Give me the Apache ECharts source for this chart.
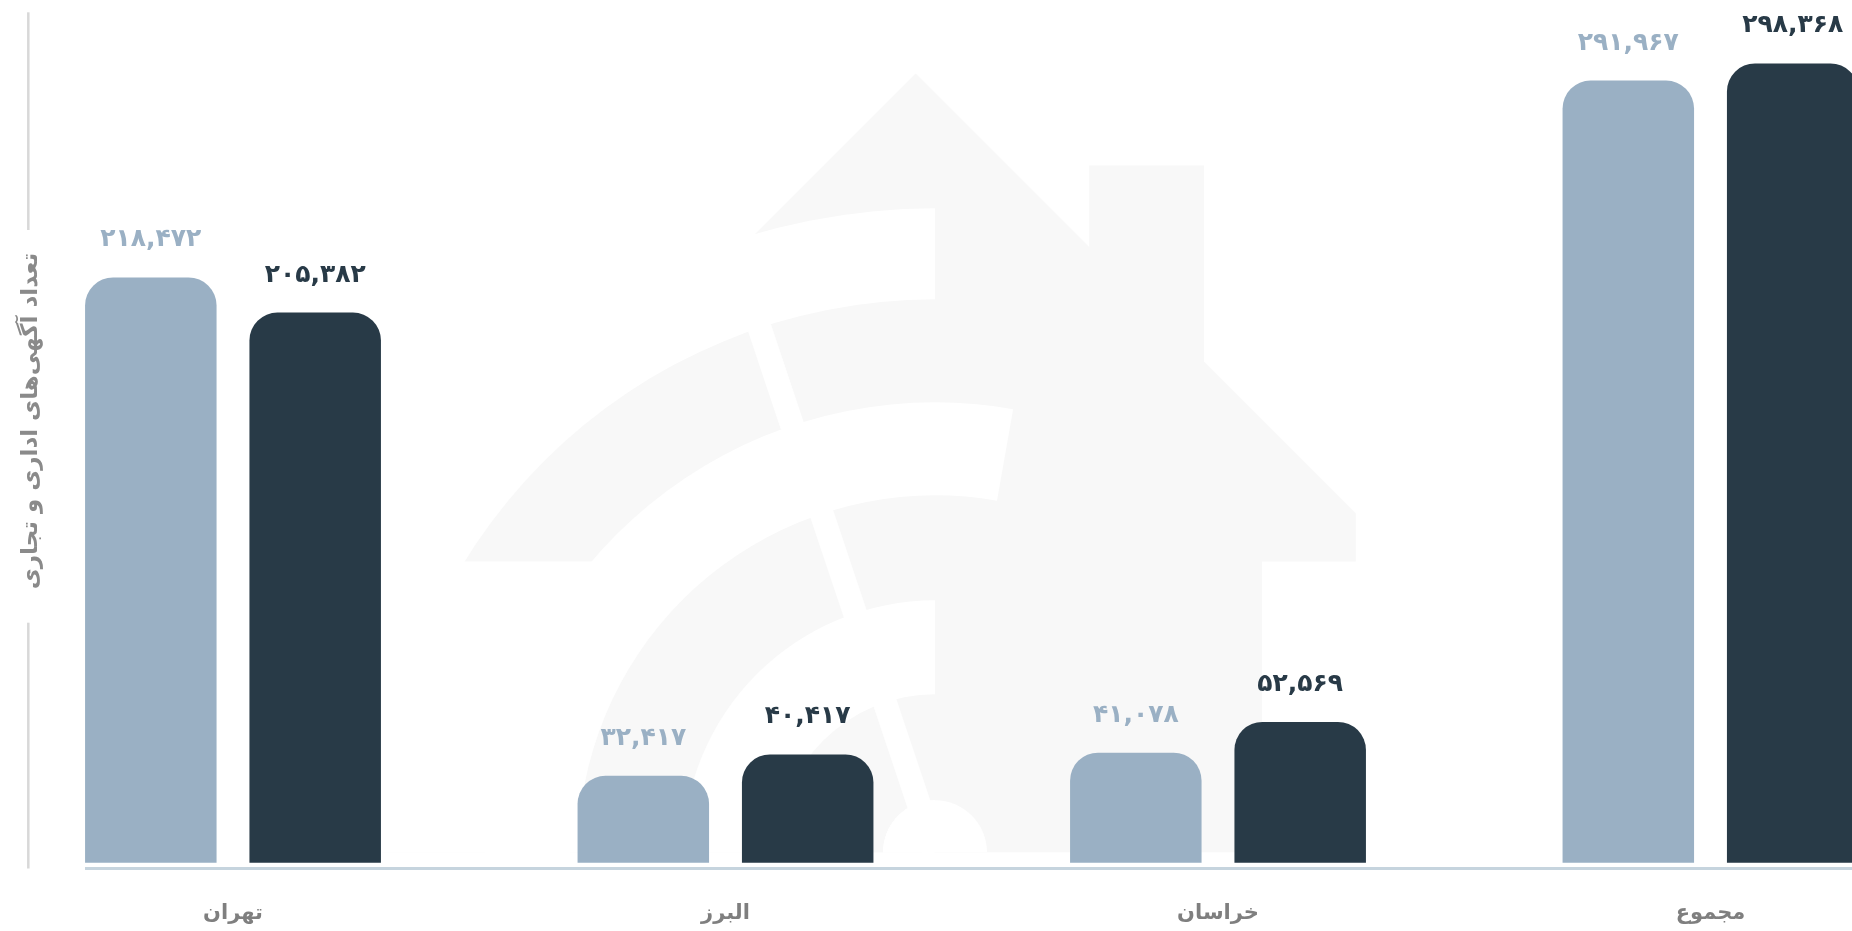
<!DOCTYPE html>
<html>
<head>
<meta charset="utf-8">
<style>
  html, body { margin: 0; padding: 0; background: #ffffff; }
  #chart { width: 1852px; height: 931px; }
</style>
<script src="https://cdn.jsdelivr.net/npm/echarts@6/dist/echarts.min.js"></script>
</head>
<body>
<div id="chart"></div>
<script>
// Provinces and the total
const categories = ['تهران', 'البرز', 'خراسان', 'مجموع'];
// Office and commercial listing counts, earlier period (light) and later period (dark)
const previousCounts = [218472, 32417, 41078, 291967];
const currentCounts = [205382, 40417, 52569, 298368];
const yAxisTitle = 'تعداد آگهی‌های اداری و تجاری';

const FONT = "'DejaVu Sans', 'Noto Sans', sans-serif";
const LIGHT = '#9ab0c4';
const DARK = '#283a47';
const MARK = '#f8f8f8';

const faDigits = '۰۱۲۳۴۵۶۷۸۹';
const toPersian = v => v.toLocaleString('en-US').replace(/\d/g, d => faDigits[d]);

// House-and-signal watermark drawn behind the bars
const cx = 935, cy = 852.3;
const PI = Math.PI;
const gapAngle = 18.5 * PI / 180;
const quarter = { startAngle: PI, endAngle: 1.5 * PI, clockwise: true };
const ringPart = (r0, r, z, fill, extra) => ({
  type: 'sector', silent: true, z: z, style: { fill: fill },
  shape: Object.assign({ cx: cx, cy: cy, r0: r0, r: r }, quarter, extra || {})
});
const watermark = [
  { type: 'polygon', silent: true, z: -20, style: { fill: MARK },
    shape: { points: [
      [915.7, 73.5], [1089.2, 246.9], [1089.2, 165.4], [1204, 165.4], [1204, 361.8],
      [1355.8, 513.6], [1355.8, 561.5], [1262, 561.5], [1262, 852.3], [569.4, 852.3],
      [569.4, 561.5], [475.6, 561.5], [475.6, 513.6]
    ] } },
  ringPart(0, 644, -19, '#ffffff'),
  ringPart(357, 450, -19, '#ffffff', { startAngle: 1.5 * PI, endAngle: 1.5 * PI + 10 * PI / 180 }),
  ringPart(450, 553, -18, MARK),
  { type: 'rect', silent: true, z: -17, style: { fill: '#ffffff' },
    shape: { x: 380, y: 561.5, width: 555, height: 291 } },
  ringPart(252, 357, -16, MARK),
  ringPart(52, 158, -16, MARK),
  ringPart(0, 52, -15, '#ffffff', { startAngle: PI, endAngle: 2 * PI }),
  { type: 'line', silent: true, z: -15, style: { stroke: '#ffffff', lineWidth: 24 },
    shape: { x1: cx, y1: cy, x2: cx - 560 * Math.sin(gapAngle), y2: cy - 560 * Math.cos(gapAngle) } }
];

// Axis rules: baseline and the split vertical rule beside the axis title
const rules = [
  { type: 'line', silent: true, z: 5, style: { stroke: '#c6d4de', lineWidth: 3 },
    shape: { x1: 85, y1: 868.5, x2: 1852, y2: 868.5 } },
  { type: 'line', silent: true, z: 5, style: { stroke: '#d8d8d8', lineWidth: 2.5 },
    shape: { x1: 28.3, y1: 12.3, x2: 28.3, y2: 230 } },
  { type: 'line', silent: true, z: 5, style: { stroke: '#d8d8d8', lineWidth: 2.5 },
    shape: { x1: 28.3, y1: 622.7, x2: 28.3, y2: 868.5 } }
];

const valueLabel = color => ({
  show: true,
  position: 'top',
  distance: 25,
  color: color,
  fontFamily: FONT,
  fontWeight: 'bold',
  fontSize: 25,
  formatter: p => toPersian(p.value)
});

const chart = echarts.init(document.getElementById('chart'), null, { renderer: 'canvas' });
chart.setOption({
  backgroundColor: '#ffffff',
  animation: false,
  graphic: { elements: watermark.concat(rules) },
  grid: {
    left: -13.25, width: 1970, top: 5.5, bottom: 68.3,
    containLabel: false, outerBoundsMode: 'none'
  },
  xAxis: {
    type: 'category',
    data: categories,
    axisLine: { show: false },
    axisTick: { show: false },
    axisLabel: {
      margin: 40,
      color: '#7f7f7f',
      fontFamily: FONT,
      fontWeight: 'bold',
      fontSize: 21
    }
  },
  yAxis: {
    type: 'value',
    min: 0,
    max: 320000,
    offset: -56,
    axisLine: { show: false },
    axisTick: { show: false },
    axisLabel: { show: false },
    splitLine: { show: false },
    name: yAxisTitle,
    nameLocation: 'middle',
    nameGap: 0,
    nameRotate: 90,
    nameTextStyle: {
      color: '#8a8a8a',
      fontFamily: FONT,
      fontWeight: 'bold',
      fontSize: 23,
      padding: [0, 0, 0, 26]
    }
  },
  series: [
    {
      name: 'previous',
      type: 'bar',
      data: previousCounts,
      barWidth: 131.5,
      barGap: '25%',
      itemStyle: { color: LIGHT, borderRadius: [28, 28, 0, 0] },
      label: valueLabel(LIGHT)
    },
    {
      name: 'current',
      type: 'bar',
      data: currentCounts,
      barWidth: 131.5,
      barGap: '25%',
      itemStyle: { color: DARK, borderRadius: [28, 28, 0, 0] },
      label: valueLabel(DARK)
    }
  ]
});
</script>
</body>
</html>
